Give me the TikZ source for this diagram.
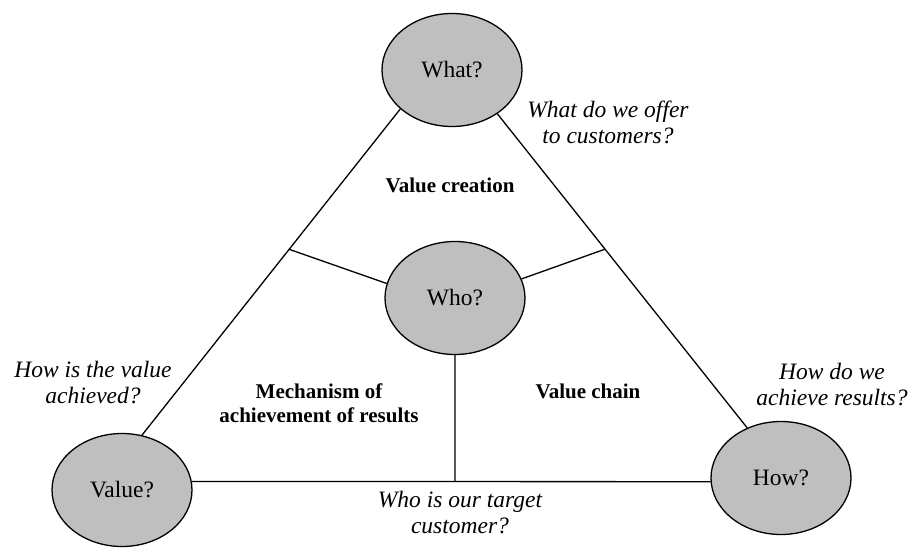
\documentclass[tikz,border=0pt]{standalone}
\usepackage{fontspec}
\setmainfont{Liberation Serif}
\usetikzlibrary{shapes.geometric,calc}

\tikzset{
  bubble/.style={ellipse, draw=black, fill=black!25, line width=1.3pt,
    minimum width=140pt, minimum height=113pt, inner sep=0pt,
    font=\fontsize{23.5}{27}\selectfont},
  edge/.style={line width=1.3pt, draw=black},
  question/.style={align=center, inner sep=0pt,
    font=\fontsize{23.5}{26}\selectfont\itshape},
  area/.style={align=center, inner sep=0pt,
    font=\fontsize{21}{24}\selectfont\bfseries}
}

\begin{document}
\begin{tikzpicture}[x=1pt, y=-1pt]
  \useasboundingbox (0,0) rectangle (911,549);

  % outer triangle: four questions at the corners and centre
  \node[bubble] (what)  at (452,70)  {What?};
  \node[bubble] (who)   at (455,298) {Who?};
  \node[bubble] (value) at (122,490) {Value?};
  \node[bubble] (how)   at (781,478) {How?};

  % triangle sides
  \draw[edge] (what.217) -- (value.70);
  \draw[edge] (what.316) -- (how.124);
  \draw[edge] (value.7) -- (how.183);

  % junction points on the sides, where the inner spokes meet them
  \coordinate (jl) at ($(what.217)!(290,250)!(value.70)$);
  \coordinate (jr) at ($(what.316)!(604,250)!(how.124)$);
  \coordinate (jb) at ($(value.7)!(who.south)!(how.183)$);

  % spokes from the centre
  \draw[edge] (jl) -- (who.168);
  \draw[edge] (jr) -- (who.16);
  \draw[edge] (who.south) -- (jb);

  % region titles
  \node[area] (creation)  at (450,185) {Value creation};
  \node[area] (mechanism) at (319,403) {Mechanism of\\achievement of results};
  \node[area] (chain)     at (588,391) {Value chain};

  % guiding questions
  \node[question] (qwhat)  at (608,122) {What do we offer\\to customers?};
  \node[question] (qvalue) at (93,383)  {How is the value\\achieved?};
  \node[question] (qhow)   at (832,385) {How do we\\achieve results?};
  \node[question] (qwho)   at (460,513) {Who is our target\\customer?};
\end{tikzpicture}
\end{document}
